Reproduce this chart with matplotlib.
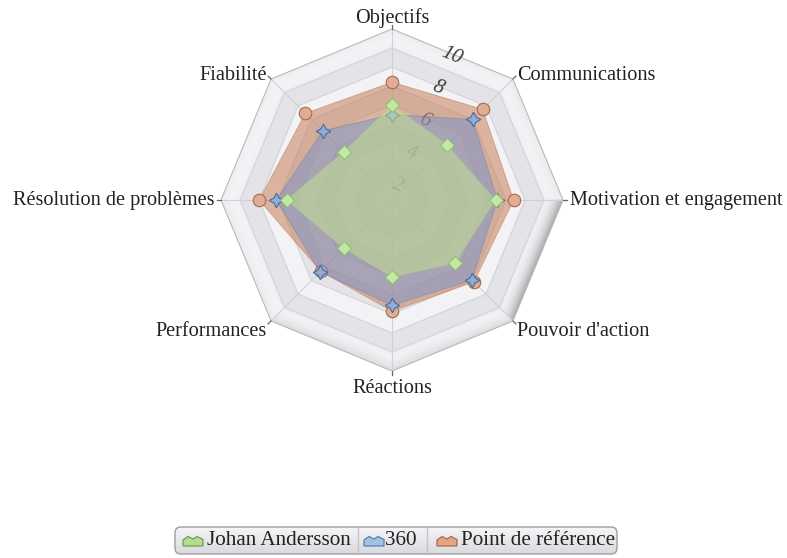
import numpy as np
import matplotlib
matplotlib.use("Agg")
import matplotlib.pyplot as plt
from matplotlib.patches import FancyBboxPatch, Polygon

# ---------------- data ----------------
categories = ['Objectifs', 'Communications', 'Motivation et engagement',
              "Pouvoir d'action", 'Réactions', 'Performances',
              'Résolution de problèmes', 'Fiabilité']
johan = [6.0, 5.1, 6.45, 5.7, 5.05, 4.6, 6.55, 4.6]
s360 = [5.5, 7.0, 6.55, 6.95, 6.55, 6.35, 7.1, 6.15]
reference = [7.2, 7.75, 7.4, 7.1, 6.85, 6.3, 8.0, 7.45]
series_names = ['Johan Andersson', '360', 'Point de référence']
radial_ticks = [2, 4, 6, 8, 10]
r_min, r_max = 1, 10

plt.rcParams['font.family'] = ['Liberation Serif', 'DejaVu Serif']

W, H = 787, 558
fig = plt.figure(figsize=(W / 100, H / 100), dpi=100)
cx, cy, R = 392, 200, 171
ax = fig.add_axes([(cx - R) / W, (H - cy - R) / H, 2 * R / W, 2 * R / H],
                  projection='polar')
ax.set_theta_zero_location('N')
ax.set_theta_direction(-1)
ax.set_ylim(r_min, r_max)
ax.set_xticks([])
ax.set_yticks([])
ax.grid(False)
ax.spines['polar'].set_visible(False)
ax.patch.set_alpha(0)

n = len(categories)
theta = np.linspace(0, 2 * np.pi, n, endpoint=False)
theta_c = np.append(theta, theta[0])

# ---------------- background bands ----------------
band_light = '#f3f3f5'
band_gray = '#e3e3e8'
for v in range(r_min, r_max - 1):
    col = band_gray if (r_max - 1 - v) % 2 == 1 else band_light
    ax.fill(np.concatenate([theta_c, theta_c[::-1]]),
            np.concatenate([np.full(n + 1, v + 1), np.full(n + 1, v)]),
            color=col, lw=0, zorder=0)

# bevel on the outer band
edge_shade = [0.12, 0.15, 1.0, 0.35, 0.35, 0.15, 0.1, 0.1]
nsub = 14
for k in range(n):
    th0, th1 = theta_c[k], theta_c[k + 1]
    for j in range(nsub):
        t = (j + 0.5) / nsub
        g = 0.965 - edge_shade[k] * 0.30 * t ** 2.0 - 0.035 * (1 - t) ** 3
        ra = r_max - 1 + j / nsub
        rb = r_max - 1 + (j + 1) / nsub
        ax.fill([th0, th1, th1, th0], [ra, ra, rb, rb],
                facecolor=(g, g, min(1, g + 0.01)),
                edgecolor=(g, g, min(1, g + 0.01)), lw=0.4, zorder=0.2)

# grid rings and spokes
for v in range(r_min + 1, r_max + 1):
    ax.plot(theta_c, np.full(n + 1, v),
            color='#b9b9c1' if v == r_max else '#d2d2d8', lw=0.8, zorder=1)
for th in theta:
    ax.plot([th, th], [r_min, r_max], color='#d0d0d6', lw=0.8, zorder=1)
    ax.plot([th, th], [r_max, r_max + 0.22], color='#666666', lw=0.9,
            zorder=1, clip_on=False)

# radial labels
for v in radial_ticks:
    rr = r_min + np.cos(np.pi / n) * (v - r_min) - 0.1
    ax.text(np.pi / n, rr, str(v), rotation=-22.5, ha='center', va='center',
            fontsize=15, style='italic', color='#3c3c3c', zorder=1.5)

# ---------------- series ----------------
styles = [
    # name, values, fill, alpha, edge, marker, mfc, mec, ms
    ('Point de référence', reference, '#c8805a', 0.55, '#b07050', 'o', '#e0ac94', '#a86a4e', 9),
    ('360', s360, '#7694ca', 0.50, '#6a7fa8', (4, 1, 0), '#8eacd6', '#4a6a9a', 10.5),
    ('Johan Andersson', johan, '#c6e68e', 0.50, '#a8c890', 'D', '#c4e8a4', '#90c070', 7),
]
z = 2
for name, vals, fc, a, ec, mk, mfc, mec, ms in styles:
    vc = np.append(vals, vals[0])
    ax.fill(theta_c, vc, color=fc, alpha=a, lw=0, zorder=z)
    ax.plot(theta_c, vc, color=ec, lw=0.6, alpha=0.5, zorder=z + 0.1)
    ax.plot(theta, vals, ls='none', marker=mk, ms=ms, mfc=mfc, mec=mec,
            mew=0.8, zorder=z + 0.2)
    z += 1

# ---------------- category labels ----------------
label_pos = [
    ((0, 1), 'center', 'bottom'),
    ((3, -1), 'left', 'baseline'),
    ((5, 0), 'left', 'center'),
    ((3, -1), 'left', 'top'),
    ((0, -6), 'center', 'top'),
    ((-3, -1), 'right', 'top'),
    ((-5, 0), 'right', 'center'),
    ((-3, -1), 'right', 'baseline'),
]
for th, lab, (off, ha, va) in zip(theta, categories, label_pos):
    ax.annotate(lab, xy=(th, r_max), xytext=off, textcoords='offset points',
                ha=ha, va=va, fontsize=14.6, color='#222222',
                annotation_clip=False)

# ---------------- legend ----------------
lx0, ly0, lw_, lh_ = 174, 526, 444, 29
lax = fig.add_axes([lx0 / W, 1 - (ly0 + lh_) / H, lw_ / W, lh_ / H])
lax.set_xlim(0, lw_)
lax.set_ylim(0, lh_)
lax.axis('off')
box = FancyBboxPatch((1, 1), lw_ - 2, lh_ - 2,
                     boxstyle='round,pad=0,rounding_size=6',
                     facecolor='none', edgecolor='#9c9ca4', lw=1.0, zorder=3)
lax.add_patch(box)
grad = np.linspace(0, 1, 64).reshape(-1, 1)
img = lax.imshow(grad, extent=(1, lw_ - 1, 1, lh_ - 1), origin='lower',
                 cmap=matplotlib.colors.LinearSegmentedColormap.from_list(
                     'g', ['#d9d9de', '#f6f6f8']), aspect='auto', zorder=1)
img.set_clip_path(box)

legend_items = [
    (series_names[0], '#b5dc8f', '#6f9f50', 9, 33),
    (series_names[1], '#a2c0e2', '#5a7fb0', 190, 211),
    (series_names[2], '#e3a486', '#a96c50', 263, 287),
]
for (txt, fc, ec, ix, tx) in legend_items:
    shape = np.array([(0, 0), (0, 6), (5, 9.5), (10, 7), (14, 9.5),
                      (20, 6.5), (20, 0)], dtype=float)
    shape[:, 0] = shape[:, 0] + ix
    shape[:, 1] = shape[:, 1] + 9
    lax.add_patch(Polygon(shape, closed=True, facecolor=fc, edgecolor=ec,
                          lw=0.9, zorder=4))
    lax.text(tx, 14.5, txt, ha='left', va='center', fontsize=15.2,
             color='#222222', zorder=4)
for dx in [184, 253]:
    lax.plot([dx, dx], [2, lh_ - 2], color='#c4c4ca', lw=1.0, zorder=4)

fig.savefig('out.png', dpi=100)
